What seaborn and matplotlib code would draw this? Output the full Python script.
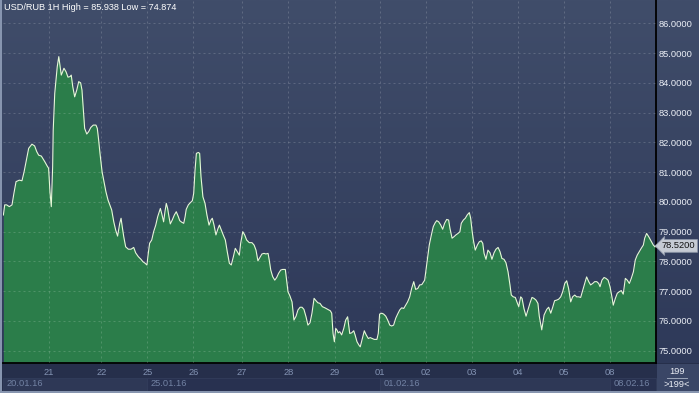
import numpy as np
import matplotlib.pyplot as plt
import matplotlib.transforms as mtransforms
from matplotlib.lines import Line2D
from matplotlib.patches import Rectangle
import seaborn as sns

# USD/RUB hourly closes (hours since 20.01.16 00:00)
hours = [0.2, 0.9, 1.9, 3.3, 4.7, 5.7, 6.8, 8.5, 9.9, 11.0, 12.4, 13.4, 15.1, 16.5, 17.6, 18.6, 20.0, 21.8, 23.1, 23.8,
         24.5, 25.2, 25.9, 26.2, 27.0, 27.7, 28.3, 29.1, 29.7, 30.4, 31.1, 31.8, 32.9, 33.9, 35.0, 35.6, 36.4, 37.4, 38.5, 39.5,
         40.5, 41.2, 41.9, 42.6, 43.7, 44.7, 45.8, 47.1, 48.5, 49.2, 49.9, 50.6, 51.7, 52.7, 53.7, 54.8, 55.7, 56.7, 57.8, 58.8,
         59.8, 60.9, 61.6, 62.2, 63.0, 64.0, 65.4, 66.8, 68.2, 69.2, 70.6, 72.0, 73.0, 74.1, 75.1, 75.8, 76.5, 77.6, 78.6, 79.7,
         80.7, 82.1, 82.8, 83.8, 84.5, 85.2, 85.9, 86.6, 87.3, 88.3, 89.4, 90.4, 91.5, 92.2, 93.2, 94.3, 95.0, 95.6, 96.7, 97.7,
         98.8, 99.5, 100.2, 100.9, 101.9, 102.6, 103.3, 104.3, 105.4, 106.4, 107.5, 108.5, 109.2, 110.1, 111.1, 112.2, 112.9, 113.9, 114.9, 116.0,
         117.0, 118.1, 119.1, 120.2, 121.2, 122.2, 123.3, 124.0, 125.1, 126.1, 127.1, 128.5, 129.9, 131.0, 132.0, 133.0, 134.1, 135.1, 136.2, 137.2,
         138.3, 138.9, 139.7, 140.7, 141.8, 142.8, 143.8, 144.9, 145.9, 147.3, 148.0, 148.7, 149.7, 150.8, 151.8, 152.9, 153.9, 155.0, 156.0, 157.0,
         158.1, 159.1, 160.2, 161.2, 162.3, 163.3, 164.3, 165.4, 166.6, 168.0, 169.4, 170.8, 171.5, 172.2, 172.9, 173.6, 174.3, 174.9, 175.7, 176.7,
         177.8, 178.8, 179.8, 180.9, 181.9, 183.0, 183.7, 184.7, 185.7, 186.4, 187.5, 188.5, 189.5, 190.6, 191.6, 192.7, 193.7, 195.1, 195.8, 196.5,
         197.6, 198.6, 199.7, 200.7, 201.8, 202.8, 203.8, 204.9, 205.9, 207.0, 208.0, 209.1, 210.1, 211.1, 212.2, 213.2, 214.3, 215.3, 216.4, 217.4,
         218.5, 220.0, 220.7, 221.4, 222.4, 223.5, 224.5, 225.5, 226.3, 227.3, 228.4, 229.4, 230.4, 231.5, 232.5, 233.2, 234.3, 235.3, 236.3, 237.4,
         238.4, 239.1, 240.2, 241.2, 242.2, 243.3, 244.0, 244.7, 245.4, 246.4, 247.5, 248.5, 249.5, 250.3, 251.0, 252.0, 253.0, 254.1, 255.1, 256.2,
         257.2, 258.3, 259.3, 260.3, 261.4, 262.4, 263.5, 264.5, 265.2, 266.2, 267.3, 268.3, 269.1, 270.1, 270.8, 271.8, 272.9, 273.9, 275.0, 276.0,
         277.0, 278.1, 279.1, 279.8, 281.1, 282.3, 283.7, 284.7, 285.8, 286.8, 287.8, 288.9, 289.9, 291.0, 292.0, 293.1, 294.1, 295.1, 296.2, 297.2,
         298.3, 299.3, 300.4, 301.4, 302.5, 303.5, 304.5, 305.6, 306.6, 307.7, 308.7, 309.8, 310.8, 311.5, 312.5, 313.6, 314.6, 315.7, 316.7, 317.7,
         318.4, 319.5, 320.5, 321.5, 322.6, 323.6, 324.7, 325.7, 326.8, 327.8, 328.9, 329.9, 330.9, 332.0, 333.0, 334.1, 334.8, 335.8, 336.9, 337.6,
         339.3, 340.2]
usdrub = [79.56, 79.90, 79.90, 79.84, 79.90, 80.29, 80.68, 80.73, 80.71, 81.01, 81.46, 81.80, 81.94, 81.88, 81.69, 81.57, 81.54, 81.35, 81.20, 81.13,
          80.34, 79.84, 81.18, 82.41, 83.65, 84.15, 84.54, 84.88, 84.60, 84.26, 84.37, 84.49, 84.37, 84.19, 84.21, 84.26, 83.87, 83.53, 83.76, 84.04,
          84.00, 83.76, 83.09, 82.47, 82.28, 82.36, 82.50, 82.58, 82.58, 82.47, 82.08, 81.63, 81.01, 80.68, 80.34, 80.06, 79.90, 79.73, 79.33, 79.05,
          78.85, 79.28, 79.45, 79.17, 78.83, 78.49, 78.41, 78.41, 78.47, 78.29, 78.16, 78.07, 77.99, 77.94, 77.88, 78.27, 78.61, 78.72, 79.00, 79.22,
          79.50, 79.78, 79.61, 79.33, 79.67, 79.95, 79.78, 79.50, 79.26, 79.39, 79.56, 79.67, 79.50, 79.37, 79.32, 79.28, 79.50, 79.75, 79.90, 79.97,
          80.04, 80.29, 81.07, 81.63, 81.66, 81.63, 80.85, 80.17, 79.95, 79.56, 79.22, 79.39, 79.45, 79.22, 78.89, 79.11, 79.22, 79.05, 78.89, 78.72,
          78.33, 77.94, 77.88, 78.16, 78.44, 78.33, 78.21, 78.61, 79.00, 78.89, 78.72, 78.63, 78.63, 78.55, 78.38, 78.02, 78.14, 78.25, 78.27, 78.25,
          78.27, 78.05, 77.71, 77.49, 77.37, 77.46, 77.60, 77.71, 77.73, 77.73, 77.37, 76.98, 76.84, 76.64, 76.03, 76.16, 76.37, 76.46, 76.46, 76.39,
          76.14, 75.86, 75.94, 76.26, 76.76, 76.68, 76.61, 76.59, 76.48, 76.44, 76.39, 76.34, 76.26, 75.58, 75.30, 75.75, 75.69, 75.60, 75.64, 75.53,
          75.75, 76.03, 76.14, 75.58, 75.60, 75.67, 75.53, 75.30, 75.19, 75.13, 75.41, 75.67, 75.53, 75.41, 75.44, 75.41, 75.38, 75.38, 75.58, 76.23,
          76.26, 76.23, 76.16, 76.03, 75.86, 75.83, 75.86, 76.09, 76.23, 76.37, 76.44, 76.42, 76.53, 76.64, 76.81, 77.09, 77.32, 77.06, 77.09, 77.21,
          77.22, 77.37, 77.71, 78.07, 78.55, 78.89, 79.17, 79.30, 79.37, 79.33, 79.22, 79.08, 79.28, 79.41, 79.39, 79.11, 78.78, 78.83, 78.89, 78.94,
          79.00, 79.28, 79.39, 79.45, 79.56, 79.64, 79.45, 79.05, 78.72, 78.38, 78.55, 78.66, 78.69, 78.61, 78.27, 78.07, 78.38, 78.29, 78.07, 78.29,
          78.41, 78.47, 78.33, 78.10, 78.07, 77.96, 77.65, 77.21, 76.87, 76.81, 76.79, 76.61, 76.48, 76.81, 76.76, 76.42, 76.16, 76.37, 76.61, 76.79,
          76.76, 76.70, 76.59, 76.16, 75.70, 76.20, 76.39, 76.46, 76.26, 76.46, 76.68, 76.70, 76.73, 76.81, 76.98, 77.26, 77.35, 77.09, 76.64, 76.81,
          76.87, 76.81, 76.81, 76.79, 77.04, 77.26, 77.48, 77.32, 77.21, 77.26, 77.32, 77.32, 77.26, 77.15, 77.37, 77.46, 77.43, 77.37, 77.15, 76.81,
          76.53, 76.76, 76.93, 76.98, 77.02, 76.90, 77.43, 77.37, 77.26, 77.43, 77.65, 78.05, 78.21, 78.33, 78.44, 78.55, 78.78, 78.94, 78.83, 78.75,
          78.55, 78.49]

day_hours = [23.8, 51.3, 75.3, 99.3, 124.7, 148.8, 173.1, 196.8, 220.8, 244.8, 268.8, 292.8, 316.8]
day_labels = ['21', '22', '25', '26', '27', '28', '29', '01', '02', '03', '04', '05', '08']
week_hours = [0, 75.3, 196.8, 316.8]
week_labels = ['20.01.16', '25.01.16', '01.02.16', '08.02.16']
price_ticks = list(range(75, 87))
last_price = 78.52
title = 'USD/RUB 1H High = 85.938 Low = 74.874'
bar_count = '199'
bar_count2 = '>199<'

plt.rcParams['font.family'] = ['Liberation Sans', 'DejaVu Sans']

W, H = 699, 393
fig = plt.figure(figsize=(W / 100, H / 100), dpi=100)
fig.patch.set_facecolor('#262f4b')

# vertical gradient behind the chart and the price scale
bg = fig.add_axes([0, 30 / H, 1, 363 / H], zorder=-10)
top = np.array([0x40, 0x4d, 0x6a]) / 255
bot = np.array([0x2e, 0x39, 0x59]) / 255
k = np.linspace(0, 1, 256)[:, None, None]
bg.imshow(top * (1 - k) + bot * k, aspect='auto', extent=(0, 1, 0, 1))
bg.set_axis_off()

ax = fig.add_axes([3 / W, 30 / H, 653 / W, 363 / H])
ax.set_facecolor('none')
y_lo, y_hi = 74.587, 86.783
x_hi = 340.7

ax.fill_between(hours, usdrub, y_lo, color='#2b7d4a', lw=0, zorder=1)
sns.lineplot(x=hours, y=usdrub, ax=ax, color='#e6f8d8', lw=0.8,
             estimator=None, sort=False, zorder=4)

ax.set_xlim(0, x_hi)
ax.set_ylim(y_lo, y_hi)
ax.set_xlabel('')
ax.set_ylabel('')

ax.set_xticks(day_hours, day_labels)
ax.set_yticks(price_ticks, [f'{p:.4f}' for p in price_ticks])
ax.yaxis.tick_right()
ax.tick_params(axis='y', length=0, pad=2.0, labelsize=6.7, labelcolor='#eceff6')
ax.tick_params(axis='x', length=0, pad=3.5, labelsize=6.7, labelcolor='#8393b3')
ax.set_axisbelow(False)
ax.grid(True, color='white', alpha=0.17, lw=0.72, ls=(0, (2, 3)))

for s in ['top', 'left']:
    ax.spines[s].set_visible(False)
for s in ['bottom', 'right']:
    ax.spines[s].set_color('black')
    ax.spines[s].set_linewidth(1.3)

# week boxes with dates under the day labels
tr = mtransforms.blended_transform_factory(ax.transData, ax.transAxes)
ends = week_hours[1:] + [x_hi]
for i, (start, lab) in enumerate(zip(week_hours, week_labels)):
    fc = '#2e3856' if i % 2 == 0 else '#283150'
    ax.add_patch(Rectangle((start, -0.0785), ends[i] - start, 0.0385, transform=tr,
                           fc=fc, ec='#343f5e', lw=0.5, clip_on=False, zorder=0))
    ax.annotate(lab, xy=(start, -0.0575), xycoords=tr, xytext=(3.5 * 0.72, 0),
                textcoords='offset points', ha='left', va='center',
                fontsize=6.7, color='#7282a3', annotation_clip=False)

# current price tag
trp = mtransforms.blended_transform_factory(ax.transAxes, ax.transData)
ax.annotate(f'{last_price:.4f}', xy=(1, last_price), xycoords=trp,
            xytext=(6 * 0.72, 0), textcoords='offset points', ha='left', va='center',
            fontsize=6.7, color='#111111', annotation_clip=False,
            bbox=dict(boxstyle='larrow,pad=0.2', fc='#c6cbd4', ec='#8d96a8', lw=0.6))

# bar counter box at the bottom right
fig.add_artist(Rectangle((657 / W, 0), 42 / W, 29 / H, transform=fig.transFigure,
                         fc='#3a4666', ec='none'))
fig.text(677 / W, 1 - 371.5 / H, bar_count, ha='center', va='center', fontsize=6.7, color='#eceff6')
fig.add_artist(Line2D([667 / W, 687 / W], [1 - 377.5 / H] * 2, color='#9aa4b8', lw=0.7))
fig.text(677 / W, 1 - 384.5 / H, bar_count2, ha='center', va='center', fontsize=6.7, color='#eceff6')

# frame
fig.add_artist(Line2D([1 / W, 1 / W], [0, 1], color='#8a98b2', lw=1.4))
fig.add_artist(Line2D([0, 1], [1 / H, 1 / H], color='#8a98b2', lw=1.4))

fig.text(4 / W, 1 - 8 / H, title, ha='left', va='center', fontsize=6.6, color='#ffffff')

fig.savefig('out.png', dpi=100, facecolor=fig.get_facecolor())
